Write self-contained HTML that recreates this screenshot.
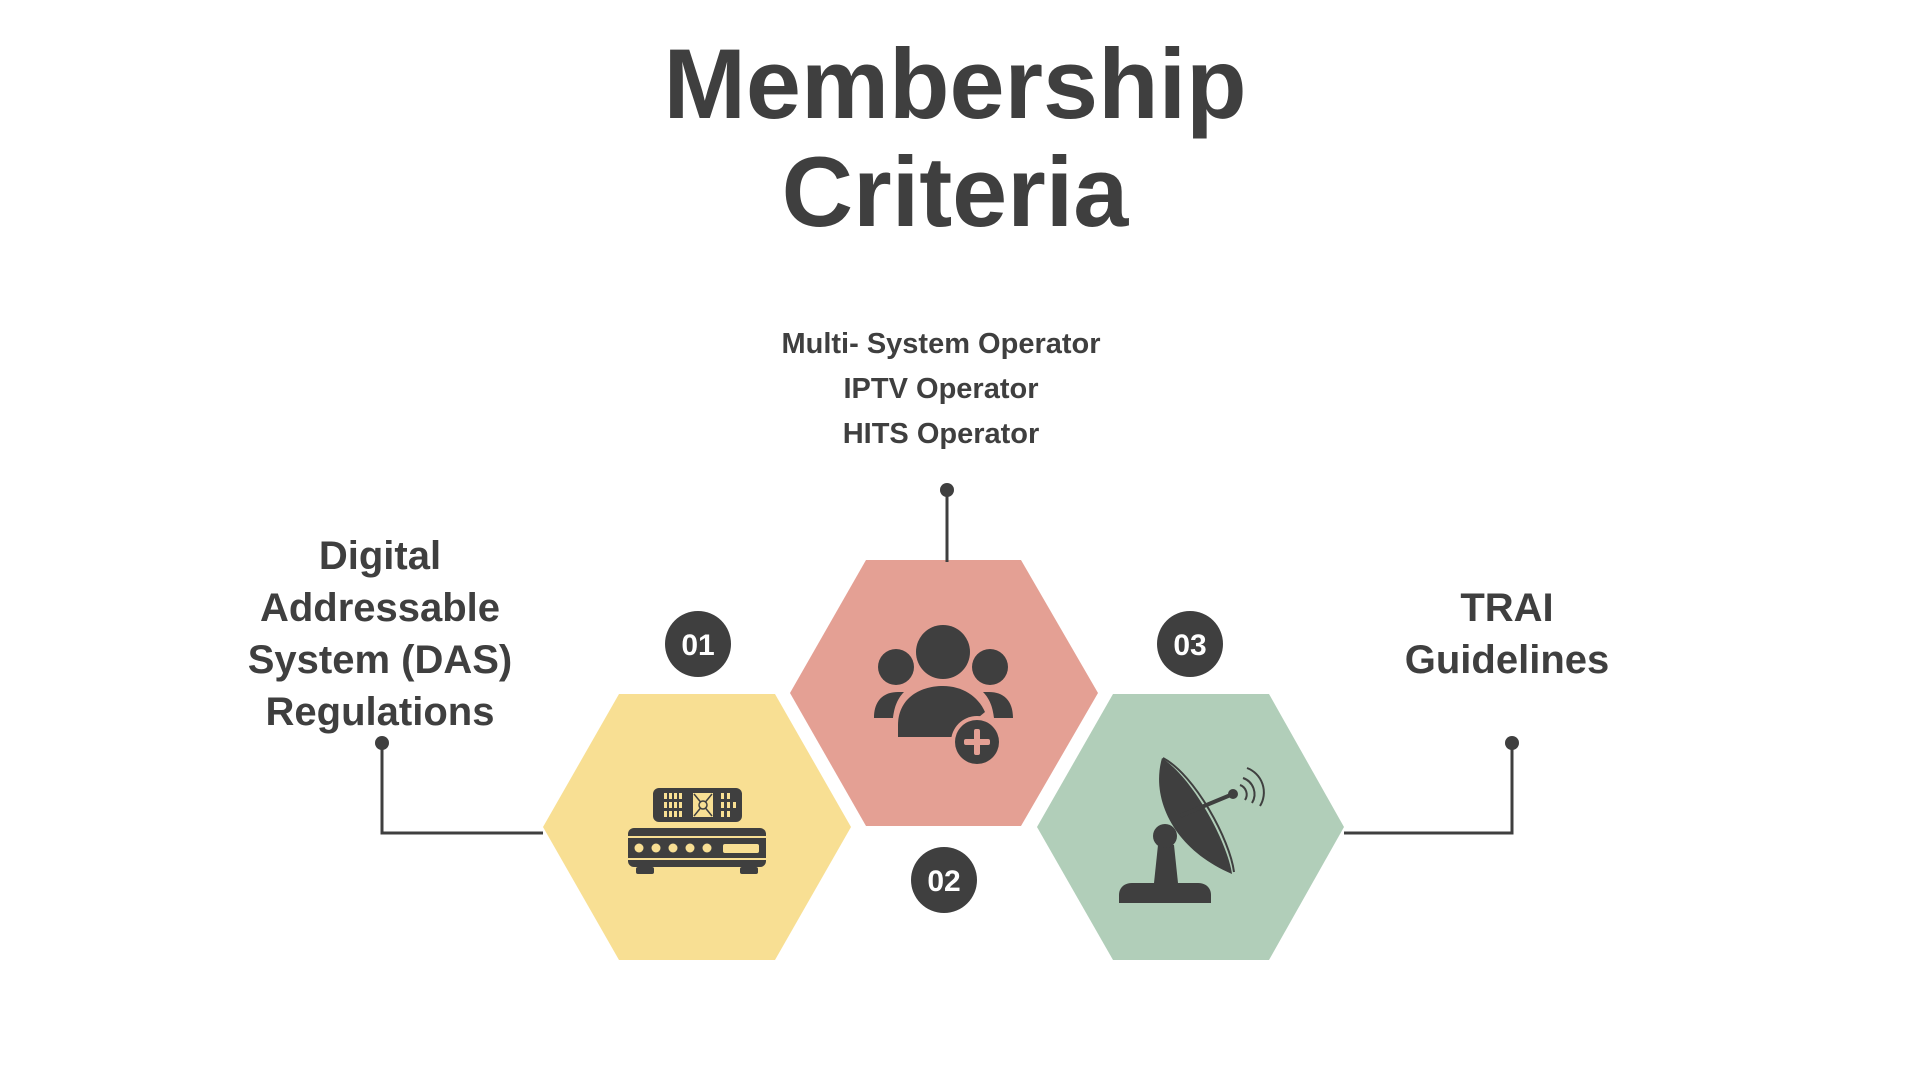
<!DOCTYPE html>
<html><head><meta charset="utf-8"><style>
html,body{margin:0;padding:0;background:#fff;}
body{width:1920px;height:1080px;position:relative;overflow:hidden;font-family:"Liberation Sans",sans-serif;color:#3f3f3f;}
.t{position:absolute;text-align:center;font-weight:bold;}
</style></head><body>
<svg width="1920" height="1080" style="position:absolute;left:0;top:0">
<polygon points="543,827 619,694 775,694 851,827 775,960 619,960" fill="#F8DF93"/>
<polygon points="790,693 866,560 1021,560 1098,693 1021,826 866,826" fill="#E4A094"/>
<polygon points="1037,827 1113,694 1269,694 1344,827 1269,960 1113,960" fill="#B1CEB9"/>
<g stroke="#3f3f3f" stroke-width="3" fill="none">
<polyline points="543,833 382,833 382,743"/>
<polyline points="1344,833 1512,833 1512,743"/>
<line x1="947" y1="490" x2="947" y2="562"/>
</g>
<g fill="#3f3f3f">
<circle cx="382" cy="743" r="7"/><circle cx="1512" cy="743" r="7"/><circle cx="947" cy="490" r="7"/>
<circle cx="698" cy="644" r="33"/><circle cx="944" cy="880" r="33"/><circle cx="1190" cy="644" r="33"/>
</g>
<g fill="#fff" font-family="Liberation Sans,sans-serif" font-weight="bold" font-size="30" text-anchor="middle">
<text x="698" y="655">01</text><text x="944" y="891">02</text><text x="1190" y="655">03</text>
</g>
<g fill="#3f3f3f">
<rect x="653" y="788" width="89" height="34" rx="6"/>
<rect x="628" y="828" width="138" height="39" rx="6"/>
<rect x="636" y="867" width="18" height="7" rx="2"/><rect x="740" y="867" width="18" height="7" rx="2"/>
</g>
<g fill="#F8DF93">
<rect x="628" y="836" width="138" height="2"/><rect x="628" y="858" width="138" height="2"/>
<circle cx="639" cy="848" r="4.5"/><circle cx="656" cy="848" r="4.5"/><circle cx="673" cy="848" r="4.5"/><circle cx="690" cy="848" r="4.5"/><circle cx="707" cy="848" r="4.5"/>
<rect x="723" y="844" width="36" height="9" rx="2"/>
<rect x="664" y="793" width="3" height="6"/><rect x="669" y="793" width="3" height="6"/><rect x="674" y="793" width="3" height="6"/><rect x="679" y="793" width="3" height="6"/>
<rect x="664" y="802" width="3" height="6"/><rect x="669" y="802" width="3" height="6"/><rect x="674" y="802" width="3" height="6"/><rect x="679" y="802" width="3" height="6"/>
<rect x="664" y="811" width="3" height="6"/><rect x="669" y="811" width="3" height="6"/><rect x="674" y="811" width="3" height="6"/><rect x="679" y="811" width="3" height="6"/>
<rect x="693" y="793" width="20" height="24"/>
<rect x="721" y="793" width="3" height="6"/><rect x="727" y="793" width="3" height="6"/><rect x="721" y="802" width="3" height="6"/><rect x="727" y="802" width="3" height="6"/><rect x="733" y="802" width="3" height="6"/><rect x="721" y="811" width="3" height="6"/><rect x="727" y="811" width="3" height="6"/>
</g>
<g stroke="#3f3f3f" stroke-width="1.5" fill="none"><line x1="694" y1="794" x2="712" y2="816"/><line x1="712" y1="794" x2="694" y2="816"/><circle cx="703" cy="805" r="4" fill="#F8DF93"/></g>
<g fill="#3f3f3f">
<ellipse cx="943" cy="652" rx="27" ry="27"/>
<ellipse cx="896" cy="667" rx="18" ry="18"/><ellipse cx="990" cy="667" rx="18" ry="18"/>
<path d="M874,718 C874,700 884,692 898,692 L904,692 C896,700 894,710 893,718 Z"/>
<path d="M1013,718 C1013,700 1003,692 989,692 L983,692 C991,700 993,710 994,718 Z"/>
<path d="M898,737 L898,725 C898,700 918,686 943,686 C962,686 978,696 985,712 L955,737 Z"/>
<circle cx="977" cy="742" r="26" fill="#E4A094"/>
<circle cx="977" cy="742" r="22"/>
</g>
<g fill="#E4A094"><rect x="974" y="729" width="6" height="26" rx="2"/><rect x="964" y="739" width="26" height="6" rx="2"/></g>
<g fill="#3f3f3f">
<path d="M1119,903 L1119,895 C1119,888 1124,883 1132,883 L1198,883 C1206,883 1211,888 1211,895 L1211,903 Z"/>
<polygon points="1154,883 1158,845 1174,845 1178,883"/>
<circle cx="1165" cy="836" r="12"/>
<path d="M1162,758 C1150,800 1175,850 1232,874 C1228,845 1195,780 1162,758 Z"/>
<line x1="1180" y1="816" x2="1233" y2="794" stroke="#3f3f3f" stroke-width="4"/>
<circle cx="1233" cy="794" r="5"/>
</g>
<g stroke="#3f3f3f" stroke-width="2" fill="none">
<path d="M1163,758 C1195,775 1230,840 1234,872"/>
<path d="M1240,785 A10,10 0 0 1 1245,800"/>
<path d="M1243,778 A17,17 0 0 1 1252,803"/>
<path d="M1247,768 A26,26 0 0 1 1260,806"/>
</g>
</svg>
<div class="t" style="left:0;width:1910px;top:30px;font-size:99px;line-height:108px;">Membership<br>Criteria</div>
<div class="t" style="left:694px;width:494px;top:322px;font-size:29px;line-height:45px;">Multi- System Operator<br>IPTV Operator<br>HITS Operator</div>
<div class="t" style="left:180px;width:400px;top:530px;font-size:40px;line-height:52px;">Digital<br>Addressable<br>System (DAS)<br>Regulations</div>
<div class="t" style="left:1307px;width:400px;top:582px;font-size:40px;line-height:52px;">TRAI<br>Guidelines</div>
</body></html>
